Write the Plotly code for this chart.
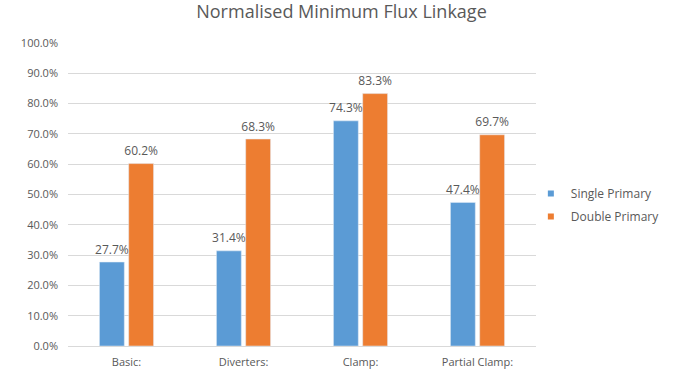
import plotly.graph_objects as go

categories = ["Basic:", "Diverters:", "Clamp:", "Partial Clamp:"]
single_primary = [27.7, 31.4, 74.3, 47.4]
double_primary = [60.2, 68.3, 83.3, 69.7]
series_names = ["Single Primary", "Double Primary"]
series_values = [single_primary, double_primary]
series_colors = ["#5B9BD5", "#ED7D31"]
y_ticks = [0, 10, 20, 30, 40, 50, 60, 70, 80, 90, 100]
y_tick_labels = [f"{v:.1f}%" for v in y_ticks]

TEXT = "#595959"
GRID = "#D9D9D9"
FONT = "Open Sans, Calibri, sans-serif"

fig = go.Figure()

for i, (name, vals, color) in enumerate(zip(series_names, series_values, series_colors)):
    grp = f"g{i}"
    # the bars themselves
    fig.add_trace(go.Bar(
        name=name, x=categories, y=vals, marker_color=color,
        offsetgroup=grp, showlegend=False, hoverinfo="x+y",
    ))
    # value labels sitting a little above each bar
    fig.add_trace(go.Scatter(
        x=categories, y=vals, mode="markers+text",
        text=[f"{v:.1f}%" for v in vals], textposition="top center",
        textfont=dict(size=12, color=TEXT),
        marker=dict(size=7, opacity=0),
        offsetgroup=grp, showlegend=False, hoverinfo="skip", cliponaxis=False,
    ))
    # small square legend key
    fig.add_trace(go.Scatter(
        name=name, x=[None], y=[None], mode="markers",
        marker=dict(symbol="square", size=6, color=color),
        legendgroup=grp, showlegend=True,
    ))

fig.update_layout(
    width=683, height=380,
    margin=dict(l=68, r=147, t=43, b=34),
    paper_bgcolor="white", plot_bgcolor="white",
    font=dict(family=FONT, color=TEXT, size=11),
    title=dict(text="Normalised Minimum Flux Linkage", x=0.5, xanchor="center",
               y=0.97, yanchor="middle", font=dict(size=18, color=TEXT)),
    barmode="group", bargap=0.5, bargroupgap=0.15,
    scattermode="group", scattergap=0.5,
    showlegend=True,
    legend=dict(x=0.989, y=0.465, xanchor="left", yanchor="middle",
                font=dict(size=12, color=TEXT), itemwidth=30,
                tracegroupgap=4, bgcolor="rgba(0,0,0,0)"),
)
fig.update_xaxes(showline=True, linecolor=GRID, linewidth=1,
                 ticks="", ticklabelstandoff=6, tickfont=dict(size=11, color=TEXT))
fig.update_yaxes(range=[0, 100], tickvals=y_ticks, ticktext=y_tick_labels,
                 showgrid=True, gridcolor=GRID, gridwidth=1,
                 zeroline=False, ticks="", ticklabelstandoff=9,
                 tickfont=dict(size=11, color=TEXT))

fig.write_html("out.html")
